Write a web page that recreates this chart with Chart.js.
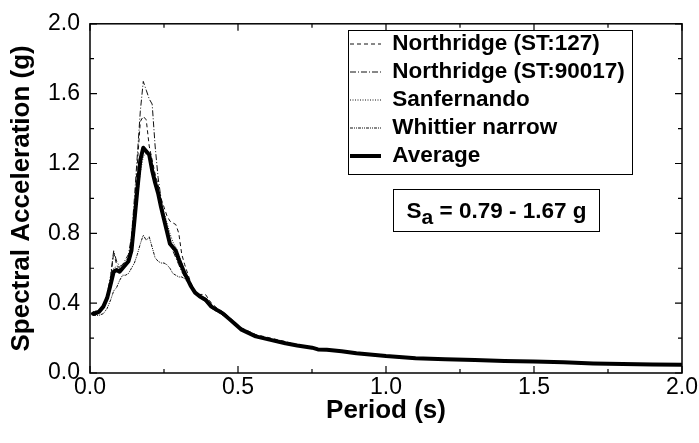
<!DOCTYPE html>
<html>
<head>
<meta charset="utf-8">
<script src="https://cdn.jsdelivr.net/npm/chart.js@4/dist/chart.umd.min.js"></script>
<style>
  html, body { margin: 0; padding: 0; background: #fff; }
  #wrap { position: relative; width: 699px; height: 443px; }
  #sa { position: absolute; left: 393px; top: 189px; width: 205px; height: 41px; border: 1px solid #000;
        font: bold 22.5px "Liberation Sans", Arial, sans-serif; color: #000; display: flex; align-items: center; justify-content: center; }
  #sa .sub { font-size: 21px; position: relative; top: 6px; }
</style>
</head>
<body>
<div id="wrap">
  <canvas id="c" width="699" height="443"></canvas>
  <div id="sa"><span>S</span><span class="sub">a</span><span>&nbsp;= 0.79 - 1.67 g</span></div>
</div>
<script>
const period = [0.01,0.03,0.045,0.058,0.07,0.08,0.09,0.10,0.11,0.12,0.13,0.14,0.15,0.16,0.17,0.18,0.19,0.20,0.21,0.22,0.23,0.24,0.25,0.26,0.27,0.28,0.29,0.30,0.31,0.32,0.34,0.355,0.37,0.39,0.41,0.43,0.45,0.47,0.49,0.51,0.56,0.61,0.66,0.70,0.75,0.77,0.80,0.85,0.90,1.00,1.10,1.20,1.30,1.40,1.50,1.60,1.70,1.80,1.90,2.00];

const northridge127 = [0.33,0.34,0.37,0.42,0.55,0.69,0.62,0.60,0.62,0.64,0.66,0.74,0.95,1.20,1.44,1.47,1.45,1.30,1.22,1.14,1.08,1.00,0.95,0.90,0.87,0.86,0.85,0.80,0.68,0.62,0.52,0.47,0.45,0.45,0.40,0.37,0.35,0.32,0.29,0.26,0.22,0.20,0.18,0.16,0.148,0.137,0.135,0.127,0.115,0.099,0.087,0.080,0.075,0.070,0.067,0.062,0.056,0.053,0.050,0.048];

const northridge90017 = [0.33,0.34,0.38,0.45,0.56,0.70,0.64,0.61,0.62,0.65,0.68,0.78,1.00,1.25,1.50,1.67,1.62,1.57,1.54,1.30,1.12,1.00,0.90,0.82,0.76,0.70,0.66,0.62,0.58,0.55,0.50,0.47,0.44,0.43,0.39,0.36,0.34,0.31,0.28,0.25,0.21,0.19,0.17,0.157,0.144,0.134,0.132,0.124,0.112,0.096,0.084,0.078,0.073,0.068,0.065,0.060,0.054,0.051,0.048,0.046];

const sanfernando = [0.35,0.36,0.39,0.44,0.52,0.60,0.61,0.60,0.61,0.62,0.63,0.68,0.82,1.00,1.15,1.24,1.26,1.25,1.20,1.12,1.05,0.98,0.92,0.86,0.80,0.75,0.72,0.68,0.63,0.58,0.51,0.46,0.44,0.42,0.38,0.36,0.33,0.31,0.28,0.25,0.21,0.19,0.17,0.158,0.145,0.136,0.133,0.125,0.113,0.097,0.085,0.079,0.074,0.069,0.066,0.061,0.055,0.052,0.049,0.047];

const whittier = [0.33,0.33,0.34,0.37,0.42,0.47,0.49,0.53,0.56,0.56,0.57,0.60,0.63,0.68,0.74,0.79,0.76,0.78,0.72,0.66,0.64,0.63,0.63,0.62,0.60,0.57,0.56,0.55,0.55,0.54,0.50,0.46,0.43,0.41,0.37,0.35,0.33,0.31,0.28,0.25,0.21,0.19,0.17,0.157,0.144,0.135,0.132,0.124,0.112,0.096,0.084,0.078,0.073,0.068,0.065,0.060,0.054,0.051,0.048,0.046];

const average = [0.34,0.35,0.38,0.43,0.51,0.58,0.59,0.58,0.60,0.62,0.64,0.70,0.87,1.05,1.22,1.29,1.27,1.25,1.16,1.09,1.03,0.95,0.88,0.81,0.74,0.72,0.70,0.65,0.61,0.57,0.50,0.46,0.44,0.42,0.38,0.36,0.34,0.31,0.28,0.25,0.21,0.19,0.17,0.158,0.145,0.135,0.133,0.125,0.113,0.097,0.085,0.079,0.074,0.069,0.066,0.061,0.055,0.052,0.049,0.047];

const seriesLabels = ['Northridge (ST:127)', 'Northridge (ST:90017)', 'Sanfernando', 'Whittier narrow', 'Average'];
const xTickValues = [0.0, 0.5, 1.0, 1.5, 2.0];
const yTickValues = [0.0, 0.4, 0.8, 1.2, 1.6, 2.0];
const xMinorValues = [0.25, 0.75, 1.25, 1.75];
const yMinorValues = [0.2, 0.6, 1.0, 1.4, 1.8];

const FONT = '"Liberation Sans", Arial, sans-serif';
const toPts = arr => arr.map((v, i) => ({x: period[i], y: v}));

const thin = (label, data, dash) => ({
  label, data: toPts(data), borderColor: '#111', backgroundColor: '#111',
  borderWidth: 1, borderDash: dash, pointRadius: 0, tension: 0, fill: false, order: 1
});

const datasets = [
  thin(seriesLabels[0], northridge127, [4, 3]),
  thin(seriesLabels[1], northridge90017, [6, 2, 1, 2]),
  thin(seriesLabels[2], sanfernando, [1, 1.5]),
  thin(seriesLabels[3], whittier, [3, 1, 1, 1, 1, 1]),
  { label: seriesLabels[4], data: toPts(average), borderColor: '#000', backgroundColor: '#000',
    borderWidth: 4, pointRadius: 0, tension: 0, fill: false, order: 0, borderCapStyle: 'round', borderJoinStyle: 'round' }
];

const framePlugin = {
  id: 'frame',
  beforeDraw(chart) {
    const lg = chart.legend;
    if (lg) {
      lg.left = 344.5; lg.top = 27.25; lg.right = 645; lg.bottom = 182;
      lg.width = lg.right - lg.left; lg.height = lg.bottom - lg.top;
    }
  },
  afterDraw(chart) {
    const {ctx, chartArea: a, scales} = chart;
    const xs = scales.x, ys = scales.y;
    ctx.save();
    ctx.strokeStyle = '#000';
    ctx.lineWidth = 1.5;
    ctx.strokeRect(a.left, a.top, a.right - a.left, a.bottom - a.top);
    ctx.lineWidth = 1.2;
    ctx.beginPath();
    const tk = (vals, len) => {
      vals.forEach(v => {
        const px = xs.getPixelForValue(v);
        ctx.moveTo(px, a.bottom); ctx.lineTo(px, a.bottom - len);
        ctx.moveTo(px, a.top); ctx.lineTo(px, a.top + len);
      });
    };
    const tky = (vals, len) => {
      vals.forEach(v => {
        const py = ys.getPixelForValue(v);
        ctx.moveTo(a.left, py); ctx.lineTo(a.left + len, py);
        ctx.moveTo(a.right, py); ctx.lineTo(a.right - len, py);
      });
    };
    tk(xTickValues, 7); tk(xMinorValues, 4);
    tky(yTickValues, 7); tky(yMinorValues, 4);
    ctx.stroke();
    ctx.lineWidth = 1;
    ctx.strokeRect(348.5, 30.5, 284, 144);
    ctx.restore();
  }
};

new Chart(document.getElementById('c'), {
  type: 'line',
  data: { datasets },
  options: {
    responsive: false,
    animation: false,
    events: [],
    layout: { padding: { top: 20, right: 17, left: 0, bottom: 0 } },
    plugins: {
      tooltip: { enabled: false },
      legend: {
        display: true,
        position: 'chartArea',
        align: 'start',
        labels: {
          usePointStyle: true,
          pointStyle: 'line',
          pointStyleWidth: 31,
          padding: 5.5,
          color: '#000',
          font: { family: FONT, size: 22.5, weight: 'bold' },
          generateLabels: chart => chart.data.datasets.map((ds, i) => ({
            text: ds.label, datasetIndex: i, hidden: false,
            strokeStyle: ds.borderColor, fillStyle: ds.borderColor,
            lineWidth: ds.borderWidth, lineDash: ds.borderDash || [], lineCap: 'butt',
            pointStyle: 'line', fontColor: '#000'
          }))
        }
      }
    },
    scales: {
      x: {
        type: 'linear', min: 0, max: 2,
        afterBuildTicks: s => { s.ticks = xTickValues.map(v => ({value: v})); },
        afterFit: s => { s.height = 70; s.paddingLeft = 0; s.paddingRight = 0; },
        grid: { display: false, drawTicks: false },
        border: { display: false },
        ticks: { color: '#000', padding: 1, maxRotation: 0, font: { family: FONT, size: 23 }, callback: v => v.toFixed(1) },
        title: { display: true, text: 'Period (s)', color: '#000', font: { family: FONT, size: 26, weight: 'bold', lineHeight: 1 }, padding: { top: 0, bottom: 19 } }
      },
      y: {
        type: 'linear', min: 0, max: 2,
        afterBuildTicks: s => { s.ticks = yTickValues.map(v => ({value: v})); },
        afterFit: s => { s.width = 90; },
        grid: { display: false, drawTicks: false },
        border: { display: false },
        ticks: { color: '#000', padding: 10, font: { family: FONT, size: 23 }, callback: v => v.toFixed(1) },
        title: { display: true, text: 'Spectral Acceleration (g)', color: '#000', font: { family: FONT, size: 26, weight: 'bold', lineHeight: 1 }, padding: { top: 9, bottom: 0 } }
      }
    }
  },
  plugins: [framePlugin]
});
</script>
</body>
</html>
